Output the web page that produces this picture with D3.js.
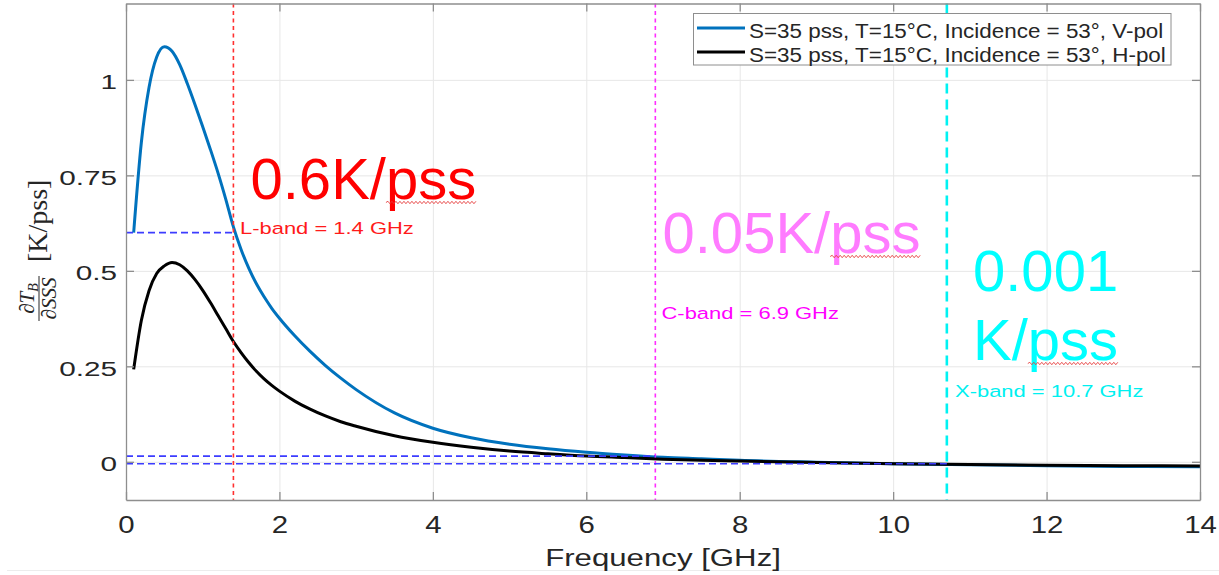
<!DOCTYPE html>
<html><head><meta charset="utf-8">
<script src="https://cdn.jsdelivr.net/npm/d3@7"></script>
<style>
html,body{margin:0;padding:0;background:#fff;}
svg{display:block;}
</style></head><body>
<svg id="chart" width="1219" height="575"></svg>
<script>
// ---------------- data ----------------
const freq = [0.1,0.2,0.3,0.4,0.5,0.6,0.7,0.8,0.9,1.0,1.1,1.2,1.3,1.4,1.5,1.6,1.7,1.8,1.9,2.0,
              2.2,2.4,2.6,2.8,3.0,3.5,4.0,4.5,5.0,5.5,6.0,6.5,7.0,7.5,8.0,9,10,11,12,13,14];
const vPol = [0.600,0.836,0.980,1.060,1.087,1.075,1.040,0.990,0.935,0.877,0.818,0.756,0.688,0.615,0.556,0.507,0.466,0.432,0.402,0.376,
              0.330,0.289,0.252,0.219,0.189,0.128,0.088,0.063,0.046,0.034,0.025,0.018,0.012,0.008,0.004,-0.001,-0.005,-0.008,-0.010,-0.012,-0.013];
const hPol = [0.242,0.370,0.448,0.493,0.513,0.522,0.516,0.500,0.477,0.449,0.417,0.383,0.349,0.315,0.286,0.260,0.237,0.217,0.200,0.185,
              0.159,0.138,0.120,0.105,0.093,0.068,0.051,0.038,0.028,0.021,0.015,0.011,0.007,0.004,0.002,-0.002,-0.005,-0.007,-0.009,-0.010,-0.011];
const seriesNames = ["S=35 pss, T=15°C, Incidence = 53°, V-pol", "S=35 pss, T=15°C, Incidence = 53°, H-pol"];
const xTicks = [0,2,4,6,8,10,12,14];
const xTickLabels = ["0","2","4","6","8","10","12","14"];
const yTicks = [0,0.25,0.5,0.75,1];
const yTickLabels = ["0","0.25","0.5","0.75","1"];
const bandFreqs = [1.4, 6.9, 10.7];
const bandLabels = ["L-band = 1.4 GHz", "C-band = 6.9 GHz", "X-band = 10.7 GHz"];
const bandLevels = [0.6, 0.015, -0.005];
const sensLabels = [["0.6K/pss"], ["0.05K/pss"], ["0.001", "K/pss"]];
const xLabel = "Frequency [GHz]";

// ---------------- layout ----------------
const svg = d3.select("#chart");
const L = 126, R = 1200, T = 3.5, B = 500;
const x = d3.scaleLinear().domain([0, 14]).range([L, R]);
const y = d3.scaleLinear().domain([-0.1, 1.2]).range([B, T]);
const SANS = "'Liberation Sans', Arial, Helvetica, sans-serif";
const SERIF = "'Liberation Serif', 'Times New Roman', serif";
const TXT = "#262626";
const AX = "#8e8e8e";

svg.append("rect").attr("width",1219).attr("height",575).attr("fill","#fff");
// faint line from the screenshot bottom
svg.append("line").attr("x1",7).attr("x2",1219).attr("y1",570.5).attr("y2",570.5).attr("stroke","#ececec");

// grid
svg.append("g").attr("transform",`translate(0,${B})`)
  .call(d3.axisBottom(x).tickValues(xTicks.slice(1,-1)).tickSize(-(B-T)).tickFormat(""))
  .call(g=>{g.select(".domain").remove(); g.selectAll("line").attr("stroke","#e7e7e7").attr("stroke-width",1);});
svg.append("g").attr("transform",`translate(${L},0)`)
  .call(d3.axisLeft(y).tickValues(yTicks).tickSize(-(R-L)).tickFormat(""))
  .call(g=>{g.select(".domain").remove(); g.selectAll("line").attr("stroke","#e7e7e7").attr("stroke-width",1);});

// curves
const line = d3.line().x(d=>x(d[0])).y(d=>y(d[1])).curve(d3.curveMonotoneX);
const curveColors = ["#0072bd", "#000000"];
[vPol, hPol].forEach((vals,i)=>{
  svg.append("path").datum(freq.map((f,j)=>[f, vals[j]]))
    .attr("d", line).attr("fill","none").attr("stroke",curveColors[i])
    .attr("stroke-width",3).attr("stroke-linejoin","round");
});

// vertical band lines
const bandColors = ["#ff3030", "#ff2eff", "#00f2f2"];
const bandDash = ["4,3.5", "4,3.5", "10,6"];
const bandWidth = [1.6, 1.6, 2.6];
bandFreqs.forEach((f,i)=>{
  svg.append("line").attr("x1",x(f)).attr("x2",x(f)).attr("y1",y(1.2)).attr("y2",y(-0.1))
    .attr("stroke",bandColors[i]).attr("stroke-width",bandWidth[i]).attr("stroke-dasharray",bandDash[i]);
});
// horizontal dashed reference levels
bandLevels.forEach((v,i)=>{
  svg.append("line").attr("x1",x(0)).attr("x2",x(bandFreqs[i])).attr("y1",y(v)).attr("y2",y(v))
    .attr("stroke","#3c3cff").attr("stroke-width",1.6).attr("stroke-dasharray","7,4");
});

// axes (box with inward ticks)
function styleAxis(g){ g.select(".domain").attr("stroke",AX).attr("stroke-width",1.3);
  g.selectAll(".tick line").attr("stroke",AX).attr("stroke-width",1.3); }
const xb = svg.append("g").attr("transform",`translate(0,${B})`)
  .call(d3.axisBottom(x).tickValues(xTicks).tickSizeInner(-8).tickSizeOuter(0).tickFormat((d,i)=>xTickLabels[i]))
  .call(styleAxis);
xb.selectAll(".tick text").attr("y",33).attr("dy",null).attr("font-family",SANS).attr("font-size",23.5)
  .attr("fill",TXT).attr("transform","scale(1.25,1)");
svg.append("g").attr("transform",`translate(0,${T})`)
  .call(d3.axisTop(x).tickValues(xTicks).tickSizeInner(-8).tickSizeOuter(0).tickFormat(""))
  .call(styleAxis);
const yl = svg.append("g").attr("transform",`translate(${L},0)`)
  .call(d3.axisLeft(y).tickValues(yTicks).tickSizeInner(-8).tickSizeOuter(0).tickFormat((d,i)=>yTickLabels[i]))
  .call(styleAxis);
yl.selectAll(".tick text").attr("x",-9/1.45).attr("y",9).attr("dy",null).attr("font-family",SANS).attr("font-size",20.5)
  .attr("fill",TXT).attr("transform","scale(1.45,1)");
svg.append("g").attr("transform",`translate(${R},0)`)
  .call(d3.axisRight(y).tickValues(yTicks).tickSizeInner(-8).tickSizeOuter(0).tickFormat(""))
  .call(styleAxis);
svg.selectAll(".domain").attr("fill","none");

// helper for horizontally stretched text
function sText(px, py, txt, size, sx, fill, anchor){
  return svg.append("g").attr("transform",`translate(${px},${py}) scale(${sx},1)`)
    .append("text").attr("x",0).attr("y",0).attr("font-family",SANS).attr("font-size",size)
    .attr("fill",fill).attr("text-anchor",anchor||"start").text(txt);
}

// x label
sText((L+R)/2, 566, xLabel, 24, 1.3, TXT, "middle");

// y label (rotated LaTeX-style)
const yg = svg.append("g").attr("transform","translate(39,321) rotate(-90)");
yg.append("line").attr("x1",0).attr("x2",45).attr("y1",0).attr("y2",0).attr("stroke",TXT).attr("stroke-width",1);
const num = yg.append("text").attr("x",22.5).attr("y",-5).attr("text-anchor","middle")
  .attr("font-family",SERIF).attr("font-style","italic").attr("font-size",21).attr("fill",TXT);
num.append("tspan").text("∂T");
num.append("tspan").attr("font-size",14).attr("dy",4).text("B");
yg.append("text").attr("x",22.5).attr("y",17).attr("text-anchor","middle")
  .attr("font-family",SERIF).attr("font-style","italic").attr("font-size",21).attr("fill",TXT).text("∂SSS");
yg.append("text").attr("x",59).attr("y",8).attr("font-family",SERIF).attr("font-size",28).attr("fill",TXT).text("[K/pss]");

// band labels
const bandTextColors = ["#ff1a1a", "#ff00ff", "#00f0f0"];
const bandTextPos = [[240,234],[661.5,319],[955,396.5]];
bandLabels.forEach((t,i)=> sText(bandTextPos[i][0], bandTextPos[i][1], t, 16.5, 1.33, bandTextColors[i]));

// legend
const lg = svg.append("g");
lg.append("rect").attr("x",693.5).attr("y",13.5).attr("width",477.5).attr("height",51.5)
  .attr("fill","#fff").attr("stroke","#8e8e8e").attr("stroke-width",1);
seriesNames.forEach((n,i)=>{
  const cy = 28 + i*24;
  lg.append("line").attr("x1",697).attr("x2",745).attr("y1",cy).attr("y2",cy)
    .attr("stroke",curveColors[i]).attr("stroke-width",2.8);
  sText(749, 37.5 + i*24, n, 19.5, 1.15, TXT);
});

// big sensitivity annotations
const sensColors = ["#ff0000", "#ff7bff", "#00ffff"];
const sensPos = [[[250.5,199]], [[662.5,253]], [[973,291],[973,360]]];
function squiggle(node, from, to, base){
  const s = node.getStartPositionOfChar(from).x, e = node.getEndPositionOfChar(to).x;
  const yy = base + 3.5; let d = `M${s},${yy}`; let k = 0;
  for (let px = s + 2; px <= e; px += 2) { k++; d += ` L${px},${yy + (k%2 ? -1.2 : 1.2)}`; }
  svg.append("path").attr("d",d).attr("fill","none").attr("stroke","#e53b3b").attr("stroke-width",0.9);
}
sensLabels.forEach((lines,i)=>{
  lines.forEach((t,j)=>{
    const [px,py] = sensPos[i][j];
    const te = svg.append("text").attr("x",px).attr("y",py).attr("font-family",SANS)
      .attr("font-size",58).attr("fill",sensColors[i]).text(t);
    const idx = t.indexOf("pss");
    if (idx >= 0) squiggle(te.node(), idx, idx+2, py);
  });
});
</script>
</body></html>
